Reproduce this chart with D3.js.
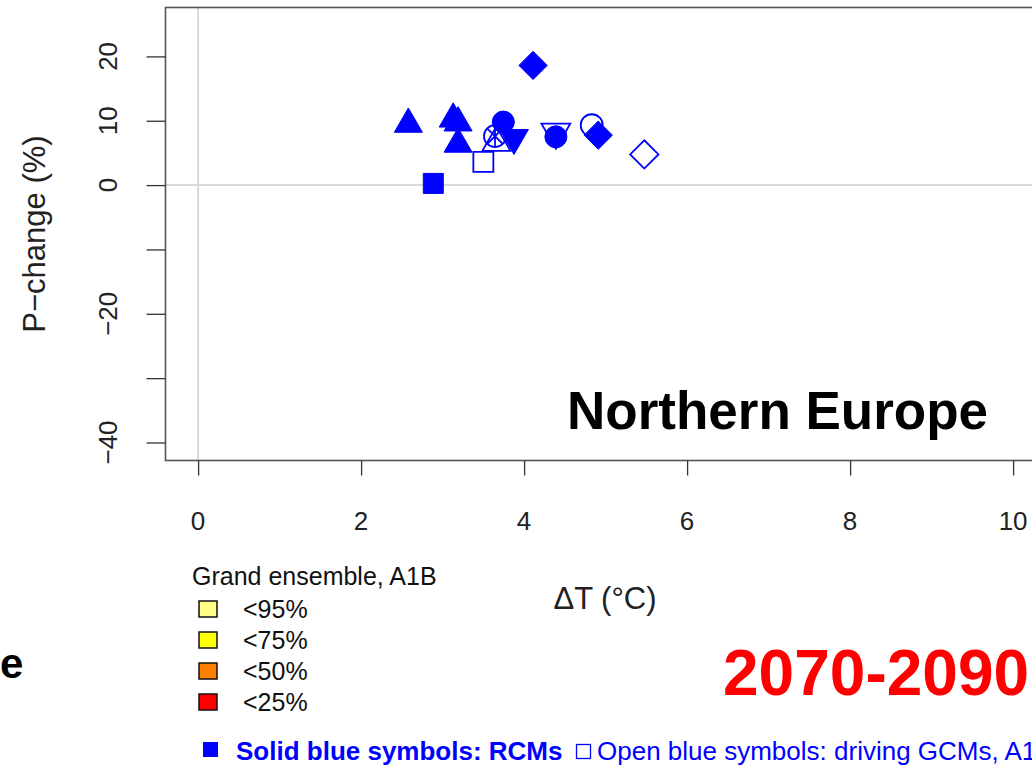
<!DOCTYPE html>
<html>
<head>
<meta charset="utf-8">
<script src="https://cdn.jsdelivr.net/npm/d3@7"></script>
<style>
  html, body { margin: 0; padding: 0; background: #fff; }
  svg { display: block; font-family: "Liberation Sans", Arial, Helvetica, sans-serif; }
</style>
</head>
<body>
<svg id="chart" width="1032" height="770"></svg>
<script>
// Regional climate change scatter: temperature change vs precipitation change
const xTicks = [0, 2, 4, 6, 8, 10];
const yTicks = [-40, -30, -20, -10, 0, 10, 20];
const yTickLabels = ["\u221240", "", "\u221220", "", "0", "10", "20"];

// Solid symbols: regional climate models
const rcmShape = ["diamond", "triangle", "triangle", "triangle", "triangle", "circle", "triangleDown", "square", "circle", "diamond"];
const rcmDT    = [4.11, 2.58, 3.13, 3.19, 3.19, 3.745, 3.876, 2.886, 4.39, 4.91];
const rcmDP    = [18.6, 10.1, 10.9, 10.3, 7.0, 9.8, 6.7, 0.26, 7.5, 7.76];

// Open symbols: driving global models
const gcmShape = ["square", "circle", "cross", "triangle", "triangleDown", "circle", "diamond"];
const gcmDT    = [3.5, 3.643, 3.643, 3.66, 4.39, 4.83, 5.475];
const gcmDP    = [3.6, 7.6, 7.6, 7.2, 7.6, 9.3, 4.77];

// Ensemble percentile legend
const legendLabels = ["<95%", "<75%", "<50%", "<25%"];
const legendColors = ["#ffff88", "#ffff00", "#ff8000", "#ff0000"];

const svg = d3.select("#chart");
const W = 1032, H = 770;
svg.append("rect").attr("width", W).attr("height", H).attr("fill", "#fff");

const box = { left: 165.5, top: 7.5, right: 1045.7, bottom: 460.5 };
const x = d3.scaleLinear().domain([-0.4, 10.4]).range([box.left, box.right]);
const y = d3.scaleLinear().domain([-42.8, 27.6]).range([box.bottom, box.top]);

// reference lines at zero
svg.append("line")
  .attr("x1", box.left).attr("x2", box.right)
  .attr("y1", y(0)).attr("y2", y(0))
  .attr("stroke", "#d9d9d9").attr("stroke-width", 2);
svg.append("line")
  .attr("x1", x(0)).attr("x2", x(0))
  .attr("y1", box.top).attr("y2", box.bottom)
  .attr("stroke", "#d9d9d9").attr("stroke-width", 2);

// plot frame
svg.append("rect")
  .attr("x", box.left).attr("y", box.top)
  .attr("width", box.right - box.left).attr("height", box.bottom - box.top)
  .attr("fill", "none").attr("stroke", "#555").attr("stroke-width", 1.6);

// x axis
const xAxis = svg.append("g")
  .attr("transform", `translate(0,${box.bottom})`)
  .call(d3.axisBottom(x).tickValues(xTicks).tickSize(15).tickSizeOuter(0).tickPadding(0).tickFormat(() => ""));
xAxis.select(".domain").remove();
xAxis.selectAll(".tick line").attr("stroke", "#333").attr("stroke-width", 1.3);
svg.append("g").selectAll("text").data(xTicks).join("text")
  .attr("x", d => x(d)).attr("y", 530)
  .attr("text-anchor", "middle")
  .attr("font-size", 26).attr("fill", "#222")
  .text(d => d);

// y axis
const yAxis = svg.append("g")
  .attr("transform", `translate(${box.left},0)`)
  .call(d3.axisLeft(y).tickValues(yTicks).tickSize(19).tickSizeOuter(0).tickFormat(() => ""));
yAxis.select(".domain").remove();
yAxis.selectAll(".tick line").attr("stroke", "#333").attr("stroke-width", 1.3);
svg.append("g").selectAll("text").data(yTicks).join("text")
  .attr("transform", d => `translate(117,${y(d)}) rotate(-90)`)
  .attr("text-anchor", "middle")
  .attr("font-size", 26).attr("fill", "#222")
  .text((d, i) => yTickLabels[i]);

// axis titles
svg.append("text")
  .attr("x", 605).attr("y", 609)
  .attr("text-anchor", "middle").attr("font-size", 31).attr("fill", "#222")
  .text("\u0394T (\u00b0C)");
svg.append("text")
  .attr("transform", `translate(45,${(box.top + box.bottom) / 2}) rotate(-90)`)
  .attr("text-anchor", "middle").attr("font-size", 31).attr("fill", "#222")
  .text("P\u2212change (%)");

// symbol types for d3.symbol
const sym = {
  square: { draw(c, s) { const h = Math.sqrt(s) / 2; c.rect(-h, -h, 2 * h, 2 * h); } },
  diamond: { draw(c, s) { const r = Math.sqrt(s / 2); c.moveTo(0, -r); c.lineTo(r, 0); c.lineTo(0, r); c.lineTo(-r, 0); c.closePath(); } },
  circle: { draw(c, s) { const r = Math.sqrt(s / Math.PI); c.moveTo(r, 0); c.arc(0, 0, r, 0, 2 * Math.PI); } },
  triangle: { draw(c, s) { const b = Math.sqrt(s * 4 / Math.sqrt(3)), h = b * Math.sqrt(3) / 2; c.moveTo(0, -h / 2); c.lineTo(b / 2, h / 2); c.lineTo(-b / 2, h / 2); c.closePath(); } },
  triangleDown: { draw(c, s) { const b = Math.sqrt(s * 4 / Math.sqrt(3)), h = b * Math.sqrt(3) / 2; c.moveTo(0, h / 2); c.lineTo(b / 2, -h / 2); c.lineTo(-b / 2, -h / 2); c.closePath(); } },
  cross: { draw(c, s) { const r = Math.sqrt(s) / 2; c.moveTo(-r, -r); c.lineTo(r, r); c.moveTo(-r, r); c.lineTo(r, -r); c.moveTo(0, -r * 1.3); c.lineTo(0, r * 1.3); } }
};
const symSize = { square: 400, diamond: 400, circle: 380, triangle: 340, triangleDown: 360, cross: 260 };

const blue = "#0000ff";

// open symbols (driving GCMs)
svg.append("g").selectAll("path").data(gcmShape).join("path")
  .attr("transform", (d, i) => `translate(${x(gcmDT[i])},${y(gcmDP[i])})`)
  .attr("d", d => d3.symbol(sym[d], symSize[d])())
  .attr("fill", "none").attr("stroke", blue).attr("stroke-width", 1.8);

// solid symbols (RCMs)
svg.append("g").selectAll("path").data(rcmShape).join("path")
  .attr("transform", (d, i) => `translate(${x(rcmDT[i])},${y(rcmDP[i])})`)
  .attr("d", d => d3.symbol(sym[d], symSize[d])())
  .attr("fill", blue).attr("stroke", blue).attr("stroke-width", 1);

// region name
svg.append("text")
  .attr("x", 567).attr("y", 429)
  .attr("font-size", 53).attr("font-weight", "bold").attr("fill", "#000")
  .text("Northern Europe");

// ensemble legend
svg.append("text")
  .attr("x", 192).attr("y", 585)
  .attr("font-size", 25).attr("fill", "#111")
  .text("Grand ensemble, A1B");
const lg = svg.append("g").selectAll("g").data(legendLabels).join("g")
  .attr("transform", (d, i) => `translate(0,${609 + i * 31})`);
lg.append("rect")
  .attr("x", 199).attr("y", -8).attr("width", 18).attr("height", 16)
  .attr("fill", (d, i) => legendColors[i]).attr("stroke", "#111").attr("stroke-width", 1.5);
lg.append("text")
  .attr("x", 243).attr("y", 9)
  .attr("font-size", 25).attr("fill", "#111")
  .text(d => d);

// period label
svg.append("text")
  .attr("x", 723).attr("y", 695)
  .attr("font-size", 64).attr("font-weight", "bold").attr("fill", "#ff0000")
  .text("2070-2090");

// partial slide text at left edge
svg.append("text")
  .attr("x", 0).attr("y", 678)
  .attr("font-size", 42).attr("font-weight", "bold").attr("fill", "#000")
  .text("e");

// symbol key at bottom
svg.append("rect").attr("x", 203).attr("y", 742).attr("width", 15).attr("height", 15).attr("fill", blue);
svg.append("text")
  .attr("x", 236).attr("y", 760)
  .attr("font-size", 26).attr("font-weight", "bold").attr("fill", blue)
  .text("Solid blue symbols: RCMs");
svg.append("rect").attr("x", 576.5).attr("y", 744.5).attr("width", 14).attr("height", 14)
  .attr("fill", "none").attr("stroke", blue).attr("stroke-width", 1.3);
svg.append("text")
  .attr("x", 597).attr("y", 760)
  .attr("font-size", 26).attr("fill", blue)
  .text("Open blue symbols: driving GCMs, A1B");
</script>
</body>
</html>
